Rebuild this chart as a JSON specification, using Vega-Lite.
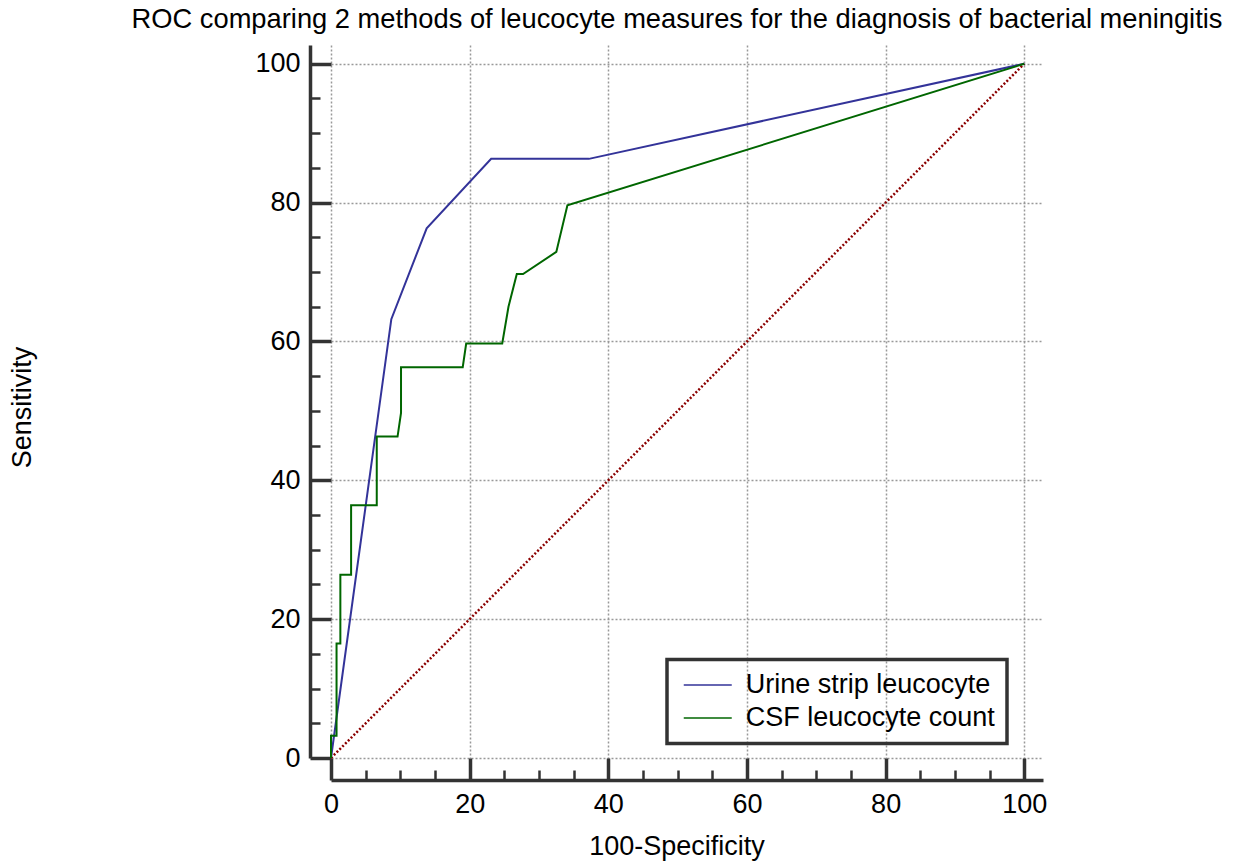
{
  "$schema": "https://vega.github.io/schema/vega-lite/v6.json",
  "width": 712,
  "height": 713,
  "autosize": "none",
  "padding": {"left": 331, "top": 45, "right": 190, "bottom": 105},
  "background": "white",
  "title": {
    "text": "ROC comparing 2 methods of leucocyte measures for the  diagnosis of bacterial meningitis",
    "font": "Liberation Sans",
    "fontSize": 27.3,
    "fontWeight": "normal",
    "color": "black",
    "anchor": "middle",
    "dx": -10,
    "offset": 12
  },
  "config": {
    "view": {"stroke": null},
    "axis": {"labelFont": "Liberation Sans", "titleFont": "Liberation Sans", "labelColor": "black", "titleColor": "black", "titleFontWeight": "normal"}
  },
  "datasets": {
    "diag": [
      {"x": 0, "y": 0},
      {"x": 100, "y": 100}
    ],
    "roc": [
      {"method": "Urine strip leucocyte", "i": 0, "x": 0, "y": 0},
      {"method": "Urine strip leucocyte", "i": 1, "x": 8.7, "y": 63.2},
      {"method": "Urine strip leucocyte", "i": 2, "x": 13.8, "y": 76.3},
      {"method": "Urine strip leucocyte", "i": 3, "x": 23.1, "y": 86.3},
      {"method": "Urine strip leucocyte", "i": 4, "x": 37.2, "y": 86.3},
      {"method": "Urine strip leucocyte", "i": 5, "x": 100, "y": 100},
      {"method": "CSF leucocyte count", "i": 0, "x": 0, "y": 0},
      {"method": "CSF leucocyte count", "i": 1, "x": 0, "y": 3.2},
      {"method": "CSF leucocyte count", "i": 2, "x": 0.8, "y": 3.2},
      {"method": "CSF leucocyte count", "i": 3, "x": 0.8, "y": 16.5},
      {"method": "CSF leucocyte count", "i": 4, "x": 1.35, "y": 16.5},
      {"method": "CSF leucocyte count", "i": 5, "x": 1.35, "y": 26.4},
      {"method": "CSF leucocyte count", "i": 6, "x": 2.9, "y": 26.4},
      {"method": "CSF leucocyte count", "i": 7, "x": 2.9, "y": 36.4},
      {"method": "CSF leucocyte count", "i": 8, "x": 6.6, "y": 36.4},
      {"method": "CSF leucocyte count", "i": 9, "x": 6.6, "y": 46.3},
      {"method": "CSF leucocyte count", "i": 10, "x": 9.6, "y": 46.3},
      {"method": "CSF leucocyte count", "i": 11, "x": 10.1, "y": 49.7},
      {"method": "CSF leucocyte count", "i": 12, "x": 10.1, "y": 56.3},
      {"method": "CSF leucocyte count", "i": 13, "x": 19.0, "y": 56.3},
      {"method": "CSF leucocyte count", "i": 14, "x": 19.5, "y": 59.7},
      {"method": "CSF leucocyte count", "i": 15, "x": 24.7, "y": 59.7},
      {"method": "CSF leucocyte count", "i": 16, "x": 25.6, "y": 65.0},
      {"method": "CSF leucocyte count", "i": 17, "x": 26.8, "y": 69.7},
      {"method": "CSF leucocyte count", "i": 18, "x": 27.7, "y": 69.7},
      {"method": "CSF leucocyte count", "i": 19, "x": 32.5, "y": 72.9},
      {"method": "CSF leucocyte count", "i": 20, "x": 34.1, "y": 79.6},
      {"method": "CSF leucocyte count", "i": 21, "x": 100, "y": 100}
    ]
  },
  "layer": [
    {
      "data": {"name": "diag"},
      "mark": {"type": "line", "color": "#8B0000", "strokeDash": [2, 2], "strokeWidth": 2.5},
      "encoding": {
        "x": {
          "field": "x", "type": "quantitative",
          "scale": {"domain": [0, 102.7], "nice": false, "zero": false},
          "axis": {
            "orient": "bottom", "values": [0, 20, 40, 60, 80, 100], "offset": 22,
            "domain": true, "domainColor": "#333", "domainWidth": 3.5,
            "ticks": true, "tickSize": -22, "tickWidth": 3.5, "tickColor": "#333",
            "grid": true, "gridColor": "#999", "gridDash": [2, 2], "gridWidth": 1.5,
            "labelFontSize": 27, "labelPadding": 33, "labelFlush": false, "labelOverlap": false,
            "title": "100-Specificity", "titleFontSize": 27, "titlePadding": 16, "titleX": 345.5
          }
        },
        "y": {
          "field": "y", "type": "quantitative",
          "scale": {"domain": [0, 102.7], "nice": false, "zero": false},
          "axis": {
            "orient": "left", "values": [0, 20, 40, 60, 80, 100], "offset": 21,
            "domain": true, "domainColor": "#333", "domainWidth": 3.5,
            "ticks": true, "tickSize": -21, "tickWidth": 3.5, "tickColor": "#333",
            "grid": true, "gridColor": "#999", "gridDash": [2, 2], "gridWidth": 1.5,
            "labelFontSize": 27, "labelPadding": 31, "labelFlush": false, "labelOverlap": false,
            "title": "Sensitivity", "titleFontSize": 27, "titlePadding": 218, "titleY": 362
          }
        }
      }
    },
    {
      "data": {"name": "roc"},
      "mark": {"type": "line", "strokeWidth": 2},
      "encoding": {
        "x": {
          "field": "x", "type": "quantitative",
          "scale": {"domain": [0, 102.7], "nice": false, "zero": false},
          "axis": {
            "orient": "bottom", "values": [5, 10, 15, 25, 30, 35, 45, 50, 55, 65, 70, 75, 85, 90, 95], "offset": 22,
            "domain": false, "grid": false, "labels": false, "title": null,
            "ticks": true, "tickSize": -10, "tickWidth": 2.5, "tickColor": "#333"
          }
        },
        "y": {
          "field": "y", "type": "quantitative",
          "scale": {"domain": [0, 102.7], "nice": false, "zero": false},
          "axis": {
            "orient": "left", "values": [5, 10, 15, 25, 30, 35, 45, 50, 55, 65, 70, 75, 85, 90, 95], "offset": 21,
            "domain": false, "grid": false, "labels": false, "title": null,
            "ticks": true, "tickSize": -10, "tickWidth": 2.5, "tickColor": "#333"
          }
        },
        "order": {"field": "i", "type": "quantitative"},
        "color": {
          "field": "method", "type": "nominal",
          "scale": {"domain": ["Urine strip leucocyte", "CSF leucocyte count"], "range": ["#333399", "#006600"]},
          "legend": {
            "orient": "none", "legendX": 336, "legendY": 614.5, "title": null,
            "symbolType": "M-2,0H2", "symbolSize": 576, "symbolStrokeWidth": 1.5, "symbolOffset": 15.25,
            "labelFont": "Liberation Sans", "labelFontSize": 27, "labelColor": "black", "labelOffset": 24.5, "labelLimit": 500,
            "rowPadding": 5, "padding": 12, "strokeColor": "#333",
            "encode": {"legend": {"update": {"strokeWidth": {"value": 3.5}}}}
          }
        }
      }
    }
  ],
  "resolve": {"axis": {"x": "independent", "y": "independent"}}
}
